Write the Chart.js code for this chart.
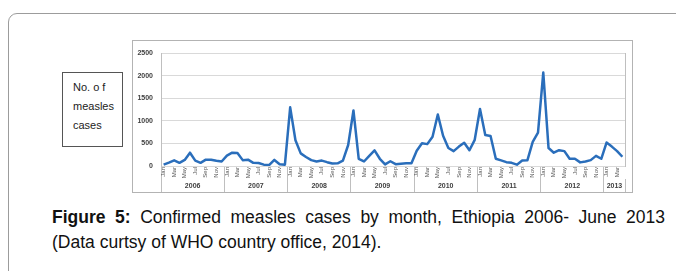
<!DOCTYPE html>
<html><head><meta charset="utf-8">
<script src="https://cdn.jsdelivr.net/npm/chart.js@4"></script>
<style>
html,body{margin:0;padding:0;background:#fff;width:676px;height:271px;overflow:hidden;font-family:"Liberation Sans",Arial,sans-serif;}
#frame{position:absolute;left:8px;top:13px;width:720px;height:300px;border:1px solid #9c9c9c;border-radius:9px;}
#ylab{position:absolute;left:62px;top:72px;width:61px;height:75px;box-sizing:border-box;border:1px solid #555;padding:5px 0 0 10px;font-size:11px;line-height:19px;color:#222;}
#chartbox{position:absolute;left:132px;top:40px;width:501px;height:153px;box-sizing:border-box;border:1px solid #b3b3b3;}
#chartbox canvas{position:absolute;left:0;top:0;}
#cap{position:absolute;left:52px;top:205px;width:613px;font-size:17.5px;line-height:25px;color:#111;}
#cap .l1{text-align:justify;text-align-last:justify;white-space:nowrap;}
</style></head>
<body>
<div id="frame"></div>
<div id="ylab">No. o f<br>measles<br>cases</div>
<div id="chartbox"><canvas id="c" width="499" height="151"></canvas></div>
<div id="cap"><div class="l1"><b>Figure 5:</b> Confirmed measles cases by month, Ethiopia 2006- June 2013</div><div>(Data curtsy of WHO country office, 2014).</div></div>
<script>
const monthNames = ['Jan','Feb','Mar','Apr','May','Jun','Jul','Aug','Sep','Oct','Nov','Dec'];
const years = ['2006','2007','2008','2009','2010','2011','2012','2013'];
const cases2006 = [30, 75, 125, 70, 135, 295, 120, 70, 140, 140, 115, 100];
const cases2007 = [230, 295, 290, 130, 140, 70, 65, 30, 20, 135, 40, 30];
const cases2008 = [1300, 570, 280, 200, 130, 100, 120, 85, 55, 60, 120, 465];
const cases2009 = [1230, 158, 100, 226, 345, 160, 35, 105, 40, 50, 60, 60];
const cases2010 = [340, 505, 485, 650, 1140, 670, 400, 330, 430, 515, 350, 580];
const cases2011 = [1265, 686, 665, 160, 125, 85, 70, 30, 120, 130, 535, 740];
const cases2012 = [2070, 398, 295, 350, 330, 160, 160, 80, 100, 130, 225, 160];
const cases2013 = [520, 430, 330, 205];
const yTicks = [0, 500, 1000, 1500, 2000, 2500];

const perYear = [cases2006, cases2007, cases2008, cases2009, cases2010, cases2011, cases2012, cases2013];
const values = [].concat(...perYear);
const labels = [];
perYear.forEach(arr => arr.forEach((v, m) => labels.push(monthNames[m])));
const N = values.length;

const boundaries = [];
const centres = {};
let start = 0;
perYear.forEach((arr, yi) => {
  boundaries.push(start - 0.5);
  centres[(start + (arr.length - 1) / 2).toFixed(1)] = years[yi];
  start += arr.length;
});
boundaries.push(start - 0.5);
const yearTickValues = boundaries.concat(Object.keys(centres).map(Number)).sort((a, b) => a - b);
const boundarySet = new Set(boundaries.map(v => v.toFixed(1)));
const yearStartIdx = new Set();
{ let s = 0; perYear.forEach(a => { yearStartIdx.add(s); s += a.length; }); yearStartIdx.add(s); }

const FONT = '"Liberation Sans", Arial, sans-serif';
const SEP = '#bfbfbf';

new Chart(document.getElementById('c'), {
  type: 'line',
  data: {
    labels: labels,
    datasets: [{
      data: values,
      xAxisID: 'x', yAxisID: 'y',
      borderColor: '#2a6ebb',
      borderWidth: 2.5,
      pointRadius: 0,
      tension: 0,
      borderJoinStyle: 'round',
      fill: false
    }]
  },
  options: {
    responsive: false,
    devicePixelRatio: 1,
    animation: false,
    events: [],
    layout: { padding: { top: 4, right: 7, left: 0, bottom: 0 } },
    plugins: { legend: { display: false }, tooltip: { enabled: false } },
    scales: {
      x: {
        type: 'category', position: 'bottom', offset: true, weight: 0,
        grid: {
          display: true, drawOnChartArea: false, drawTicks: true, tickLength: 13, offset: true,
          color: ctx => yearStartIdx.has(ctx.index) ? SEP : 'rgba(0,0,0,0)'
        },
        border: { display: false },
        ticks: {
          autoSkip: false, minRotation: 90, maxRotation: 90, padding: -12,
          font: { size: 6, family: FONT }, color: '#555',
          callback: (v, i) => (i % 2 === 0 ? labels[i] : '')
        },
        afterFit: s => { s.height = 13; }
      },
      x2: {
        type: 'linear', position: 'bottom', weight: 1, min: -0.5, max: N - 0.5,
        afterBuildTicks: s => { s.ticks = yearTickValues.map(v => ({ value: v })); },
        grid: {
          display: true, drawOnChartArea: false, drawTicks: true, tickLength: 13,
          color: ctx => (ctx.tick && boundarySet.has(ctx.tick.value.toFixed(1))) ? SEP : 'rgba(0,0,0,0)'
        },
        border: { display: false },
        ticks: {
          autoSkip: false, maxRotation: 0, minRotation: 0, padding: -10,
          font: { size: 7, weight: 'bold', family: FONT }, color: '#404040',
          callback: v => centres[Number(v).toFixed(1)] || ''
        },
        afterFit: s => { s.height = 13; }
      },
      y: {
        min: 0, max: 2500,
        afterBuildTicks: s => { s.ticks = yTicks.map(v => ({ value: v })); },
        ticks: { padding: 8, font: { size: 7, weight: 'bold', family: FONT }, color: '#404040',
          callback: v => String(v) },
        grid: { color: '#d9d9d9', drawTicks: false },
        border: { display: true, color: SEP },
        afterFit: s => { s.width = 28; }
      },
      yR: {
        position: 'right', min: 0, max: 2500,
        ticks: { display: false },
        grid: { drawOnChartArea: false, drawTicks: false },
        border: { display: true, color: SEP },
        afterFit: s => { s.width = 0; }
      }
    }
  }
});
</script>
</body></html>
